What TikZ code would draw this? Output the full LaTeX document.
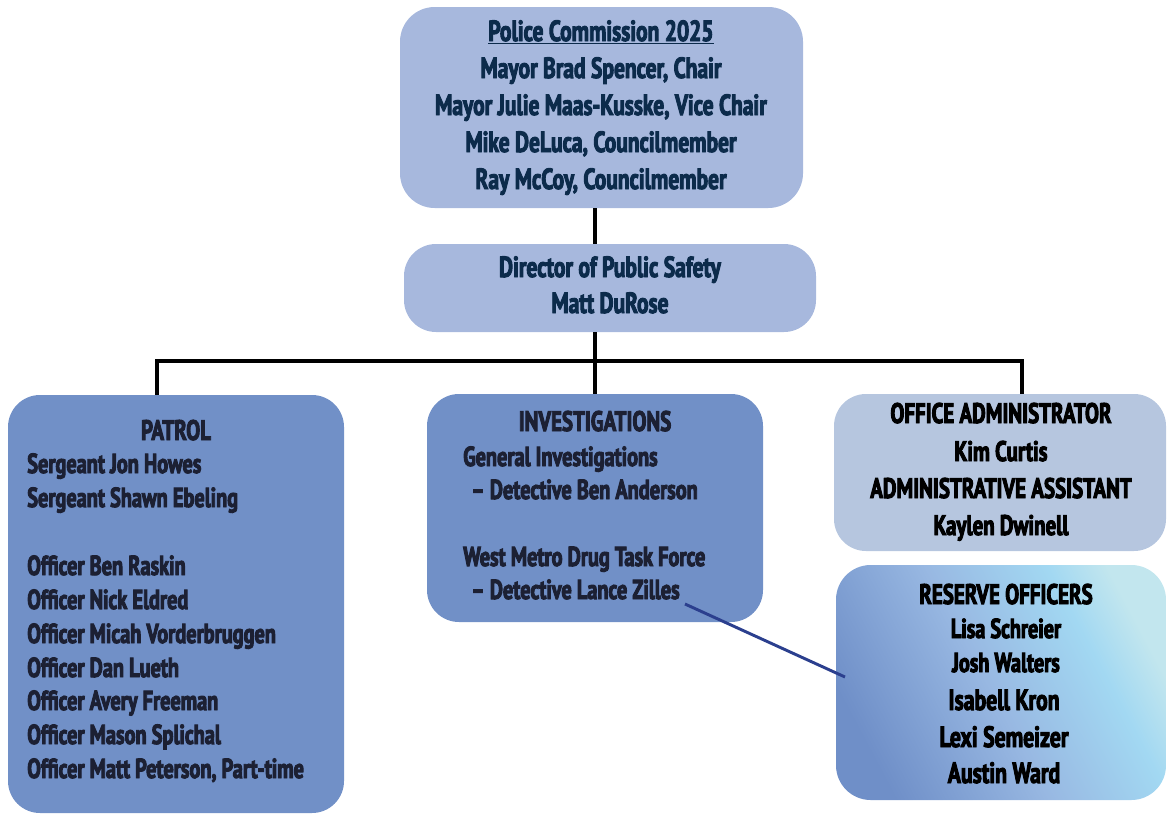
\documentclass[tikz,border=0pt]{standalone}
\usepackage{fontspec}
\setmainfont[FakeStretch=0.74, BoldFont={PT Sans Bold}, BoldFeatures={FakeStretch=0.74}]{PT Sans}
\newcommand\thickon{\special{pdf:literal direct 2 Tr 0.7 w}}
\newcommand\thickoff{\special{pdf:literal direct 0 Tr}}
\definecolor{topfill}{HTML}{A7B8DD}
\definecolor{unitfill}{HTML}{7190C7}
\definecolor{offfill}{HTML}{B6C6DF}
\definecolor{toptext}{HTML}{0C2B4B}
\definecolor{unittext}{HTML}{1C2033}
\definecolor{linkblue}{HTML}{2B3F8E}
\definecolor{rsA}{HTML}{6F8FC8}
\definecolor{rsM}{HTML}{98B8E2}
\definecolor{rsB}{HTML}{A2D8F2}
\definecolor{rsC}{HTML}{C2E6EE}
\pgfdeclarehorizontalshading{resshade}{100bp}{color(0bp)=(rsA); color(25bp)=(rsA); color(48bp)=(rsM); color(66bp)=(rsB); color(75bp)=(rsC); color(100bp)=(rsC)}
\begin{document}
\begin{tikzpicture}[x=0.75pt,y=-0.75pt,
  boxshape/.style={rectangle, inner sep=0pt, minimum width=#1},
  tbase/.style={inner sep=0pt, anchor=base, execute at begin node=\thickon, execute at end node=\thickoff},
  txt/.style={tbase, font=\fontsize{20.6}{24}\selectfont\bfseries},
  txtl/.style={txt, anchor=base west},
  toptxt/.style={tbase, font=\fontsize{21.8}{24}\selectfont\bfseries},
  head/.style={tbase, font=\fontsize{21.2}{24}\selectfont\bfseries},
  resbig/.style={tbase, font=\fontsize{22}{24}\selectfont\bfseries},
  ressmall/.style={tbase, font=\fontsize{20.5}{24}\selectfont\bfseries},
  conn/.style={line width=3pt, black}]
\useasboundingbox (0,0) rectangle (1167,814);
% boxes
\node[boxshape=403*0.75pt, minimum height=201*0.75pt, rounded corners=26pt, fill=topfill] (top) at (601.5,107.5) {};
\node[boxshape=412*0.75pt, minimum height=88*0.75pt, rounded corners=24pt, fill=topfill] (dir) at (610,288) {};
\node[boxshape=336*0.75pt, minimum height=418*0.75pt, rounded corners=24pt, fill=unitfill] (pat) at (176,604) {};
\node[boxshape=336*0.75pt, minimum height=228*0.75pt, rounded corners=24pt, fill=unitfill] (inv) at (595,508) {};
\node[boxshape=332*0.75pt, minimum height=157*0.75pt, rounded corners=24pt, fill=offfill] (off) at (1000,472.5) {};
\node[boxshape=330*0.75pt, minimum height=235*0.75pt, rounded corners=26pt, shading=resshade, shading angle=28] (res) at (1001,682.5) {};
% connectors
\coordinate (j) at (595,361);
\coordinate (pl) at (157,361);
\coordinate (pr) at (1022,361);
\draw[conn] (j |- top.south) -- (j |- dir.north);
\draw[conn] (j |- dir.south) -- (j |- inv.north);
\draw[conn] (pat.north -| pl) -- (pl) -- (pr) -- (off.north -| pr);
\coordinate (ls) at (685,604);
\coordinate (le) at (845,677);
\draw[linkblue, line width=2.2pt] (ls) -- (le);
% top box text
\begin{scope}[every node/.append style={text=toptext}]
\node[toptxt] (t1) at (601,41) {\underline{Police Commission 2025}};
\node[toptxt] (t2) at (601,78) {Mayor Brad Spencer, Chair};
\node[toptxt] (t3) at (601,115) {Mayor Julie Maas-Kusske, Vice Chair};
\node[toptxt] (t4) at (601,152) {Mike DeLuca, Councilmember};
\node[toptxt] (t5) at (601,189) {Ray McCoy, Councilmember};
\node[toptxt] (d1) at (610,277) {Director of Public Safety};
\node[toptxt] (d2) at (610,313) {Matt DuRose};
\end{scope}
% patrol
\begin{scope}[every node/.append style={text=unittext}]
\node[head] (p0) at (176,440) {PATROL};
\node[txtl] (p1) at (27,473) {Sergeant Jon Howes};
\node[txtl] (p2) at (27,507) {Sergeant Shawn Ebeling};
\node[txtl] (p3) at (27,575) {Officer Ben Raskin};
\node[txtl] (p4) at (27,609) {Officer Nick Eldred};
\node[txtl] (p5) at (27,643) {Officer Micah Vorderbruggen};
\node[txtl] (p6) at (27,677) {Officer Dan Lueth};
\node[txtl] (p7) at (27,710) {Officer Avery Freeman};
\node[txtl] (p8) at (27,744) {Officer Mason Splichal};
\node[txtl] (p9) at (27,778) {Officer Matt Peterson, Part-time};
% investigations
\node[head] (i0) at (595,431) {INVESTIGATIONS};
\node[txtl] (i1) at (463,466) {General Investigations};
\node[txtl] (i2) at (471,499) {– Detective Ben Anderson};
\node[txtl] (i3) at (463,566) {West Metro Drug Task Force};
\node[txtl] (i4) at (471,599) {– Detective Lance Zilles};
\end{scope}
% office
\begin{scope}[every node/.append style={text=black}]
\node[head] (o1) at (1001,423) {OFFICE ADMINISTRATOR};
\node[head] (o2) at (1001,461) {Kim Curtis};
\node[head] (o3) at (1001,498) {ADMINISTRATIVE ASSISTANT};
\node[head] (o4) at (1001,535) {Kaylen Dwinell};
% reserve
\node[head] (r0) at (1006,604) {RESERVE OFFICERS};
\node[ressmall] (r1) at (1006,638) {Lisa Schreier};
\node[ressmall] (r2) at (1006,672) {Josh Walters};
\node[resbig] (r3) at (1004,710) {Isabell Kron};
\node[resbig] (r4) at (1004,747) {Lexi Semeizer};
\node[resbig] (r5) at (1004,783) {Austin Ward};
\end{scope}
\end{tikzpicture}
\end{document}
